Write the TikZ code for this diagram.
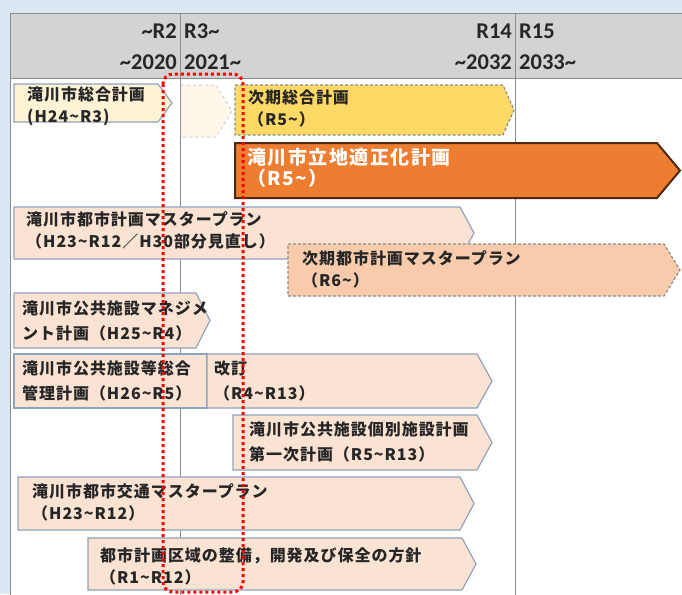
\documentclass[tikz,border=0pt]{standalone}
\usepackage{fontspec}
\newfontfamily\jp{Noto Sans CJK JP}[LetterSpace=6]
\newfontfamily\jpbig{Noto Sans CJK JP}[LetterSpace=8]
\newfontfamily\hd{Carlito}
\newcommand\tld{\char"7E\relax}
\definecolor{bgblue}{HTML}{DCE6F2}
\definecolor{hdgray}{HTML}{D3D3D3}
\definecolor{gridc}{HTML}{8C8C8C}
\definecolor{cream}{HTML}{FFF3D6}
\definecolor{ghost}{HTML}{FEF8EA}
\definecolor{barline}{HTML}{8EA4BE}
\definecolor{peach}{HTML}{FBE3D3}
\definecolor{peachdark}{HTML}{F8CBAD}
\definecolor{yel}{HTML}{FFD966}
\definecolor{orng}{HTML}{ED7D31}
\definecolor{orngline}{HTML}{502810}
\definecolor{txtc}{HTML}{262626}
\newcommand\chev[6]{\path[#1] (#2,#3) -- (#4,#3) -- (#5,{(#3+#6)/2}) -- (#4,#6) -- (#2,#6) -- cycle;}
\begin{document}
\begin{tikzpicture}[x=1pt,y=-1pt,
  bar/.style={draw=barline, line width=1.2pt, fill=peach},
  creambar/.style={draw=barline, line width=1.2pt, fill=cream},
  ghostbar/.style={draw=gridc!40, dashed, line width=1pt, fill=ghost},
  dashbar/.style={draw=gridc, dash pattern=on 3pt off 2pt, line width=1.2pt},
  orangebar/.style={draw=orngline, line width=2pt, fill=orng},
  hdtext/.style={font=\hd\bfseries\fontsize{22.5}{24}\selectfont, text=txtc, inner sep=0pt},
  txt/.style={font=\jp\bfseries\fontsize{16}{22}\selectfont, text=txtc, align=left, inner sep=0pt, anchor=west},
  txtwide/.style={txt, font=\jp\bfseries\fontsize{16}{25}\selectfont},
  reddot/.style={draw=red, line width=3pt, dash pattern=on 3pt off 3pt}]
\useasboundingbox (0,0) rectangle (682,594);
% background and table
\path[fill=bgblue] (0,0) rectangle (682,594);
\path[fill=white, draw=gridc, line width=1pt] (10,14) rectangle (700,610);
\path[fill=hdgray, draw=gridc, line width=1pt] (10,14) rectangle (700,78);
\draw[gridc, line width=1pt] (180,14) -- (180,610);
\draw[gridc, line width=1pt] (515,14) -- (515,610);
% header
\node[hdtext, anchor=base east] (r2) at (177,38) {\tld R2};
\node[hdtext, anchor=base east] (y2020) at (177,70) {\tld 2020};
\node[hdtext, anchor=base west] (r3) at (184,38) {R3\tld};
\node[hdtext, anchor=base west] (y2021) at (184,70) {2021\tld};
\node[hdtext, anchor=base east] (r14) at (512,38) {R14};
\node[hdtext, anchor=base east] (y2032) at (512,70) {\tld 2032};
\node[hdtext, anchor=base west] (r15) at (519,38) {R15};
\node[hdtext, anchor=base west] (y2033) at (519,70) {2033\tld};
% bars
\chev{creambar}{14}{84}{158}{172}{122}
\chev{ghostbar}{181}{85}{216}{232}{137}
\chev{dashbar, fill=yel}{235}{85}{503}{514}{135}
\chev{orangebar}{235}{143}{657}{680}{198}
\chev{bar}{14}{207}{460}{474}{259}
\chev{dashbar, fill=peachdark}{288}{244}{664}{680}{296}
\chev{bar}{14}{293}{196}{210}{348}
\path[bar] (14,354) rectangle (207,408);
\chev{bar}{207}{354}{477}{492}{408}
\chev{bar}{233}{415}{477}{492}{470}
\chev{bar}{18}{477}{460}{474}{530}
\chev{bar}{88}{538}{462}{476}{590}
% texts
\node[txt] (t1) at (27,106) {滝川市総合計画\\(H24\tld R3)};
\node[txt] (t2) at (248,108) {次期総合計画\\（R5\tld ）};
\node[txt, font=\jpbig\bfseries\fontsize{19}{21}\selectfont, text=white] (t3) at (247,168) {滝川市立地適正化計画\\（R5\tld ）};
\node[txt] (t4) at (26,230) {滝川市都市計画マスタープラン\\（H23\tld R12／H30部分見直し）};
\node[txt] (t5) at (302,269) {次期都市計画マスタープラン\\（R6\tld ）};
\node[txtwide] (t6) at (22,320.5) {滝川市公共施設マネジメ\\ント計画（H25\tld R4）};
\node[txtwide] (t7) at (22,380.5) {滝川市公共施設等総合\\管理計画（H26\tld R5）};
\node[txtwide] (t7b) at (214,380.5) {改訂\\（R4\tld R13）};
\node[txtwide] (t8) at (249,441.5) {滝川市公共施設個別施設計画\\第一次計画（R5\tld R13）};
\node[txt] (t9) at (32,502.5) {滝川市都市交通マスタープラン\\（H23\tld R12）};
\node[txt] (t10) at (100,566) {都市計画区域の整備，開発及び保全の方針\\（R1\tld R12）};
% red dotted frame
\draw[reddot, rounded corners=10pt] (163,74) rectangle (243,592);
\end{tikzpicture}
\end{document}
